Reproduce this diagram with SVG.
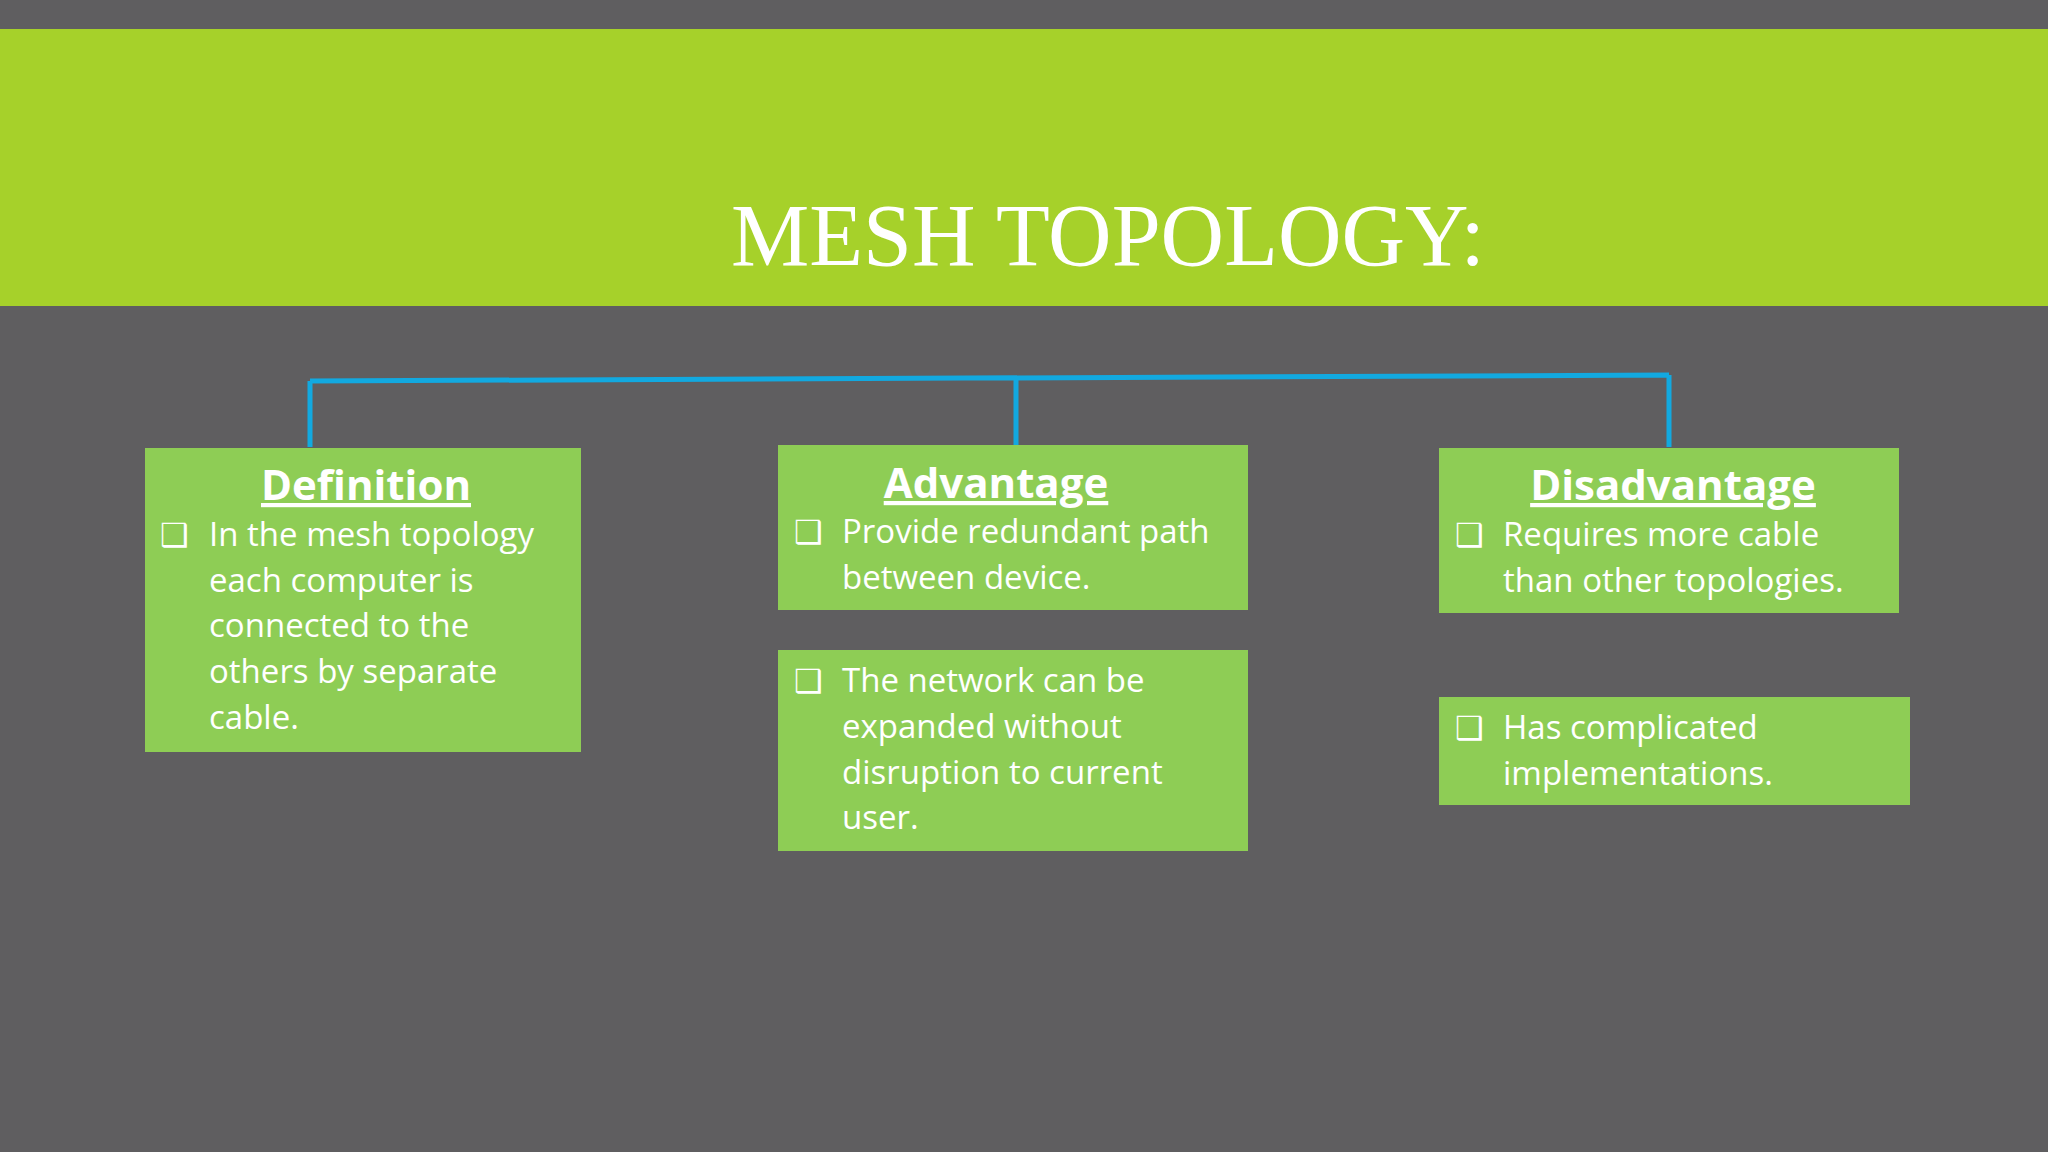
<svg xmlns="http://www.w3.org/2000/svg" width="2048" height="1152" viewBox="0 0 2048 1152">
<style>
.box{fill:#8ecd55}
.h{font-family:"Open Sans","Liberation Sans",sans-serif;font-size:42px;font-weight:bold;fill:#fff;text-decoration:underline;text-anchor:middle}
.t{font-family:"Open Sans","Liberation Sans",sans-serif;font-size:33px;fill:#fff}
.b{font-family:"DejaVu Sans",sans-serif;font-size:32px;fill:#fff}
.c{stroke:#12a9e0;stroke-width:5;fill:none}
</style>
<rect width="2048" height="1152" fill="#5f5e60"/>
<rect y="29" width="2048" height="277" fill="#a6d12a"/>
<text x="1108" y="265" font-family="Liberation Serif,serif" font-size="88" fill="#fff" text-anchor="middle">MESH TOPOLOGY:</text>
<g id="connectors">
<path class="c" d="M310 381 L1669 375 M310 381 V447 M1016 379 V445 M1669 375 V447"/>
</g>
<g id="definition">
<rect class="box" x="145" y="448" width="436" height="304"/>
<text class="h" x="366" y="500">Definition</text>
<text class="b" x="160" y="546">❑</text>
<text class="t" x="209" y="546">In the mesh topology</text>
<text class="t" x="209" y="592">each computer is</text>
<text class="t" x="209" y="637">connected to the</text>
<text class="t" x="209" y="683">others by separate</text>
<text class="t" x="209" y="729">cable.</text>
</g>
<g id="advantage">
<rect class="box" x="778" y="445" width="470" height="165"/>
<text class="h" x="996" y="498">Advantage</text>
<text class="b" x="794" y="543">❑</text>
<text class="t" x="842" y="543">Provide redundant path</text>
<text class="t" x="842" y="589">between device.</text>
</g>
<g id="advantage2">
<rect class="box" x="778" y="650" width="470" height="201"/>
<text class="b" x="794" y="692">❑</text>
<text class="t" x="842" y="692">The network can be</text>
<text class="t" x="842" y="738">expanded without</text>
<text class="t" x="842" y="784">disruption to current</text>
<text class="t" x="842" y="829">user.</text>
</g>
<g id="disadvantage">
<rect class="box" x="1439" y="448" width="460" height="165"/>
<text class="h" x="1673" y="500">Disadvantage</text>
<text class="b" x="1455" y="546">❑</text>
<text class="t" x="1503" y="546">Requires more cable</text>
<text class="t" x="1503" y="592">than other topologies.</text>
</g>
<g id="disadvantage2">
<rect class="box" x="1439" y="697" width="471" height="108"/>
<text class="b" x="1455" y="739">❑</text>
<text class="t" x="1503" y="739">Has complicated</text>
<text class="t" x="1503" y="785">implementations.</text>
</g>
</svg>
